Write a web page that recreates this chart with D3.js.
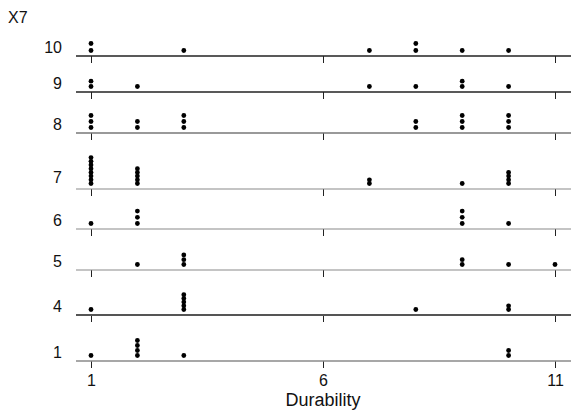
<!DOCTYPE html>
<html>
<head>
<meta charset="utf-8">
<script src="https://cdn.jsdelivr.net/npm/d3@7"></script>
<style>
  html, body { margin: 0; padding: 0; background: #fff; }
  svg { display: block; font-family: "Liberation Sans", Arial, sans-serif; }
</style>
</head>
<body>
<svg id="chart" width="571" height="413"></svg>
<script>
// ---- Data: Durability observations per X7 group (one entry per dot) ----
const groups = ["1", "4", "5", "6", "7", "8", "9", "10"];
const durability_1  = [1, 2, 2, 2, 2, 3, 10, 10];
const durability_4  = [1, 3, 3, 3, 3, 3, 8, 10, 10];
const durability_5  = [2, 3, 3, 3, 9, 9, 10, 11];
const durability_6  = [1, 2, 2, 2, 9, 9, 9, 10];
const durability_7  = [1, 1, 1, 1, 1, 1, 1, 1, 2, 2, 2, 2, 2, 7, 7, 9, 10, 10, 10, 10];
const durability_8  = [1, 1, 1, 2, 2, 3, 3, 3, 8, 8, 9, 9, 9, 10, 10, 10];
const durability_9  = [1, 1, 2, 7, 8, 9, 9, 10];
const durability_10 = [1, 1, 3, 7, 8, 8, 9, 10];
const groupValues = [durability_1, durability_4, durability_5, durability_6,
                     durability_7, durability_8, durability_9, durability_10];
const xTicks = [1, 6, 11];
const xDomain = [1, 11];

// ---- Layout (styles, not data) ----
const panelGap = {"1": 0, "4": 46, "5": 45, "6": 41, "7": 40, "8": 56, "9": 41, "10": 36};
const dotStep  = {"1": 5.0, "4": 3.7, "5": 4.8, "6": 6.2, "7": 3.7, "8": 6.0, "9": 5.3, "10": 7.0};
const labelLift = {"1": 3, "4": 3, "5": 3, "6": 3, "7": 6, "8": 3, "9": 3, "10": 3};
const lineStyle = {
  "1": ["#8a8a8a", 1.5], "4": ["#555", 2.2], "5": ["#8a8a8a", 1.2], "6": ["#8a8a8a", 1.2],
  "7": ["#8a8a8a", 1.2], "8": ["#777", 1.5], "9": ["#222", 1.5], "10": ["#222", 1.5]
};
const FS = 16;

const svg = d3.select("#chart");
const lineX0 = 76, lineX1 = 571;

const x = d3.scaleLinear().domain(xDomain).range([91, 555]);

let cum = 0;
const cumPos = {};
groups.forEach(g => { cum += panelGap[g]; cumPos[g] = cum; });
const yBase = d3.scaleLinear().domain([0, cum]).range([361, 56]);

groups.forEach((g, gi) => {
  const by = yBase(cumPos[g]);
  const [col, sw] = lineStyle[g];

  const axis = d3.axisBottom(x).tickValues(xTicks).tickSize(7).tickSizeOuter(0)
    .tickPadding(4)
    .tickFormat(gi === 0 ? d3.format("d") : () => "");
  const ag = svg.append("g").attr("transform", `translate(0,${by})`).call(axis);
  ag.select(".domain").remove();
  ag.selectAll(".tick line").attr("stroke", "#222").attr("stroke-width", 1);
  ag.selectAll(".tick text").attr("font-size", FS).attr("fill", "#111")
    .attr("font-family", "Liberation Sans, Arial, sans-serif").attr("dy", "0.9em");

  svg.append("line")
    .attr("x1", lineX0).attr("x2", lineX1)
    .attr("y1", by).attr("y2", by)
    .attr("stroke", col).attr("stroke-width", sw);

  svg.append("text")
    .attr("x", 62).attr("y", by - labelLift[g])
    .attr("text-anchor", "end")
    .attr("font-size", FS).attr("fill", "#111")
    .text(g);

  const counts = {};
  const pts = groupValues[gi].map(v => {
    const k = counts[v] || 0;
    counts[v] = k + 1;
    return { v, k };
  });
  svg.append("g").selectAll("circle").data(pts).join("circle")
    .attr("cx", d => x(d.v))
    .attr("cy", d => by - 5.5 - d.k * dotStep[g])
    .attr("r", 2.4)
    .attr("fill", "#000");
});

svg.append("text").attr("x", 8).attr("y", 23)
  .attr("font-size", FS).attr("fill", "#111").text("X7");
svg.append("text").attr("x", x(6)).attr("y", 406)
  .attr("text-anchor", "middle").attr("font-size", 18).attr("fill", "#111").text("Durability");
</script>
</body>
</html>
